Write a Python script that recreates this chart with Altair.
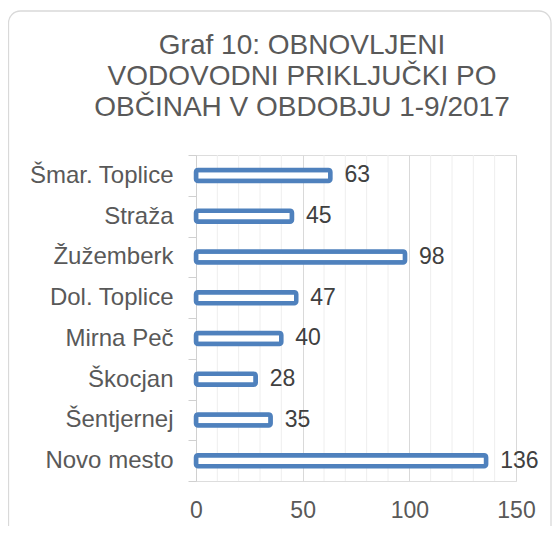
import altair as alt
import pandas as pd

categories = ["Šmar. Toplice", "Straža", "Žužemberk", "Dol. Toplice",
              "Mirna Peč", "Škocjan", "Šentjernej", "Novo mesto"]
values = [63, 45, 98, 47, 40, 28, 35, 136]
major_ticks = [0, 50, 100, 150]
minor_ticks = [10, 20, 30, 40, 60, 70, 80, 90, 110, 120, 130, 140]
title_lines = ["Graf 10: OBNOVLJENI", "VODOVODNI PRIKLJUČKI PO",
               "OBČINAH V OBDOBJU 1-9/2017"]

FONT = "Liberation Sans"
df = pd.DataFrame({"obcina": categories, "vrednost": values})
minor_df = pd.DataFrame({"t": minor_ticks})
one_df = pd.DataFrame({"f": [0]})

x_scale = alt.Scale(domain=[0, 150], nice=False, zero=True)
y_scale = alt.Scale(domain=categories, paddingInner=0, paddingOuter=0)

x_axis = alt.Axis(values=major_ticks, title=None, grid=True, gridColor="#d9d9d9",
                  domain=False, ticks=False, labelFontSize=23, labelColor="#595959",
                  labelPadding=18, labelFont=FONT, labelFlush=False)
y_axis = alt.Axis(title=None, tickBand="extent", tickSize=8, tickColor="#d0d0d0",
                  domainColor="#d0d0d0", labelFontSize=24, labelColor="#595959",
                  labelPadding=15, labelFont=FONT, grid=False)

frame = alt.Chart(one_df).mark_rect(
    filled=False, stroke="#d9d9d9", strokeWidth=1.3, cornerRadius=12
).encode(x=alt.value(-187.5), x2=alt.value(355), y=alt.value(-144), y2=alt.value(420))

title = alt.Chart(one_df).mark_text(
    align="center", baseline="alphabetic", fontSize=28, font=FONT,
    color="#595959", lineHeight=31
).encode(x=alt.value(106), y=alt.value(-101), text=alt.value(title_lines))

minor = alt.Chart(minor_df).mark_rule(color="#eeeeee", strokeWidth=1).encode(
    x=alt.X("t:Q", scale=x_scale, axis=x_axis)
)

bars = alt.Chart(df).mark_bar(
    fill="white", stroke="#4f81bd", strokeWidth=4.5, cornerRadius=2, size=11
).encode(
    x=alt.X("vrednost:Q", scale=x_scale, axis=x_axis),
    y=alt.Y("obcina:N", sort=categories, scale=y_scale, axis=y_axis),
)

labels = alt.Chart(df).mark_text(
    align="left", baseline="middle", dx=14, fontSize=23, color="#404040", font=FONT
).encode(
    x=alt.X("vrednost:Q", scale=x_scale, axis=x_axis),
    y=alt.Y("obcina:N", sort=categories, scale=y_scale, axis=y_axis),
    text="vrednost:Q",
)

chart = alt.layer(frame, title, minor, bars, labels).properties(
    width=320, height=326,
    autosize=alt.AutoSizeParams(type="none"),
    padding={"left": 188, "top": 147, "right": 36, "bottom": 45},
).configure_view(stroke=None).configure(background="white")

chart.save("out.html", embed_options={"renderer": "svg", "actions": False})
